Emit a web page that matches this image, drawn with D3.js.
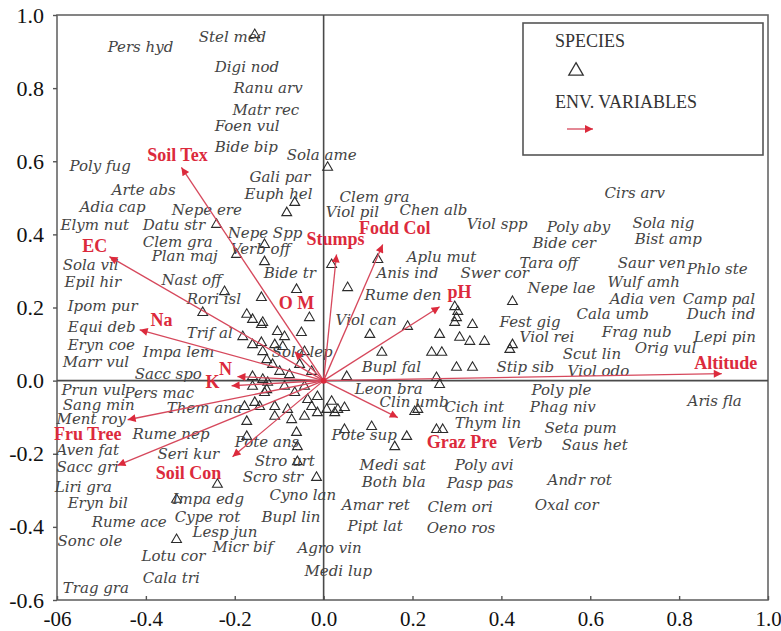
<!DOCTYPE html>
<html>
<head>
<meta charset="utf-8">
<script src="https://cdn.jsdelivr.net/npm/d3@7"></script>
<style>
  body { margin: 0; background: #fff; }
  svg { display: block; }
</style>
</head>
<body>
<svg id="chart" width="781" height="631"></svg>
<script>
// Axis ticks (CCA axis 1 horizontal, axis 2 vertical)
const xTicks = [-0.6, -0.4, -0.2, 0.0, 0.2, 0.4, 0.6, 0.8, 1.0];
const xTickLabels = ["-06", "-0.4", "-0.2", "0.0", "0.2", "0.4", "0.6", "0.8", "1.0"];
const yTicks = [-0.6, -0.4, -0.2, 0.0, 0.2, 0.4, 0.6, 0.8, 1.0];
const yTickLabels = ["-0.6", "-0.4", "-0.2", "0.0", "0.2", "0.4", "0.6", "0.8", "1.0"];

// Species name labels and their ordination scores
const speciesNames = [
  "Pers hyd", "Stel med", "Digi nod", "Ranu arv", "Matr rec", "Foen vul", "Bide bip", "Sola ame",
  "Poly fug", "Arte abs", "Adia cap", "Nepe ere", "Elym nut", "Datu str", "Nepe Spp", "Clem gra",
  "Plan maj", "Verb off", "Sola vil", "Nast off", "Epil hir", "Rori isl", "Ipom pur", "Bide tr",
  "Gali par", "Euph hel", "Clem gra", "Viol pil", "Chen alb", "Viol spp", "Aplu mut", "Anis ind",
  "Swer cor", "Rume den", "Viol can", "Cirs arv", "Poly aby", "Sola nig", "Bide cer", "Bist amp",
  "Tara off", "Saur ven", "Phlo ste", "Wulf amh", "Nepe lae", "Adia ven", "Camp pal", "Cala umb",
  "Duch ind", "Fest gig", "Frag nub", "Lepi pin", "Viol rei", "Orig vul", "Scut lin", "Stip sib",
  "Viol odo", "Poly ple", "Phag niv", "Aris fla", "Cich int", "Thym lin", "Seta pum", "Verb",
  "Saus het", "Poly avi", "Andr rot", "Pasp pas", "Oxal cor", "Clem ori", "Oeno ros", "Medi sat",
  "Both bla", "Amar ret", "Pipt lat", "Agro vin", "Medi lup", "Cyno lan", "Bupl lin", "Micr bif",
  "Lesp jun", "Cype rot", "Impa edg", "Lotu cor", "Cala tri", "Trag gra", "Sonc ole", "Rume ace",
  "Eryn bil", "Liri gra", "Sacc gri", "Aven fat", "Seri kur", "Rume nep", "Ment roy", "Sang min",
  "Prun vul", "Pers mac", "Them ana", "Sacc spo", "Marr vul", "Impa lem", "Eryn coe", "Trif al",
  "Equi deb", "Pote ans", "Pote sup", "Stro urt", "Scro str", "Leon bra", "Clin umb", "Bupl fal",
  "Sola lep"
];
const speciesX = [
  -0.486, -0.281, -0.245, -0.203, -0.205, -0.245, -0.245, -0.083,
  -0.572, -0.477, -0.549, -0.342, -0.592, -0.407, -0.216, -0.407,
  -0.387, -0.209, -0.587, -0.365, -0.583, -0.308, -0.576, -0.135,
  -0.167, -0.178, 0.036, 0.005, 0.171, 0.322, 0.187, 0.119,
  0.308, 0.092, 0.027, 0.632, 0.502, 0.695, 0.470, 0.700,
  0.441, 0.662, 0.817, 0.639, 0.459, 0.644, 0.808, 0.569,
  0.817, 0.396, 0.626, 0.833, 0.441, 0.700, 0.538, 0.389,
  0.549, 0.468, 0.464, 0.819, 0.272, 0.295, 0.497, 0.414,
  0.536, 0.295, 0.504, 0.277, 0.475, 0.234, 0.232, 0.081,
  0.086, 0.041, 0.054, -0.059, -0.043, -0.122, -0.140, -0.250,
  -0.295, -0.335, -0.340, -0.410, -0.407, -0.587, -0.599, -0.522,
  -0.576, -0.605, -0.601, -0.601, -0.374, -0.430, -0.601, -0.587,
  -0.590, -0.448, -0.353, -0.425, -0.587, -0.407, -0.576, -0.308,
  -0.576, -0.200, 0.018, -0.155, -0.182, 0.070, 0.126, 0.086,
  -0.117
];
const speciesY = [
  0.913, 0.941, 0.859, 0.799, 0.741, 0.697, 0.640, 0.618,
  0.588, 0.522, 0.476, 0.468, 0.427, 0.427, 0.405, 0.380,
  0.342, 0.361, 0.317, 0.276, 0.271, 0.222, 0.205, 0.295,
  0.558, 0.511, 0.503, 0.462, 0.468, 0.429, 0.339, 0.295,
  0.295, 0.235, 0.167, 0.514, 0.421, 0.432, 0.377, 0.388,
  0.323, 0.323, 0.304, 0.271, 0.254, 0.222, 0.222, 0.181,
  0.181, 0.161, 0.134, 0.120, 0.120, 0.088, 0.074, 0.038,
  0.025, -0.027, -0.071, -0.055, -0.071, -0.115, -0.129, -0.170,
  -0.175, -0.230, -0.271, -0.279, -0.339, -0.345, -0.402, -0.230,
  -0.276, -0.339, -0.397, -0.457, -0.522, -0.312, -0.372, -0.454,
  -0.413, -0.372, -0.325, -0.479, -0.539, -0.566, -0.438, -0.388,
  -0.334, -0.290, -0.235, -0.191, -0.200, -0.145, -0.104, -0.066,
  -0.027, -0.033, -0.074, 0.019, 0.052, 0.077, 0.098, 0.131,
  0.148, -0.167, -0.150, -0.219, -0.263, -0.022, -0.058, 0.038,
  0.079
];

// Species sample points (triangles)
const triangleX = [
  -0.155, 0.009, -0.065, -0.083, -0.241, -0.196, -0.133, -0.133, 0.018, 0.122,
  -0.223, -0.140, -0.061, 0.054, -0.173, -0.272, -0.032, 0.295, 0.302, 0.425,
  0.299, 0.295, 0.335, 0.189, 0.104, 0.261, 0.306, 0.329, 0.362, 0.243,
  0.266, 0.419, 0.131, 0.299, 0.335, 0.052, 0.254, 0.261, 0.212, 0.205,
  0.108, 0.254, 0.268, 0.187, 0.160, 0.047, -0.061, -0.059, 0.425,
  -0.160, -0.137, -0.182, -0.160, -0.137, -0.128, -0.160, -0.137, -0.160, -0.128,
  -0.155, -0.178, -0.144, -0.173, -0.173, -0.140, -0.104, -0.088, -0.050, -0.140,
  -0.110, -0.092, -0.115, -0.099, -0.126, -0.088, -0.043, -0.133, -0.065, -0.036,
  -0.014, 0.018, -0.110, -0.081, -0.027, 0.007, 0.032, 0.047, -0.110, -0.072,
  -0.043, -0.014, 0.025, -0.239, -0.331, -0.331, -0.016, -0.059,
  -0.054, -0.077, -0.027, -0.043
];
const triangleY = [
  0.946, 0.583, 0.487, 0.459, 0.427, 0.345, 0.372, 0.325, 0.317, 0.331,
  0.243, 0.227, 0.249, 0.254, 0.181, 0.186, 0.172, 0.202, 0.189, 0.216,
  0.172, 0.159, 0.153, 0.148, 0.126, 0.126, 0.118, 0.107, 0.107, 0.077,
  0.077, 0.085, 0.077, 0.036, 0.036, 0.011, 0.008, -0.011, -0.079, -0.085,
  -0.126, -0.134, -0.134, -0.153, -0.181, -0.134, -0.142, -0.181, 0.098,
  0.167, 0.159, 0.120, 0.098, 0.079, 0.057, 0.011, 0.003, -0.016, -0.025,
  -0.060, -0.071, -0.071, -0.112, -0.153, 0.153, 0.134, 0.120, 0.131, 0.104,
  0.098, 0.093, 0.044, 0.025, -0.005, -0.016, -0.016, -0.033, -0.033, -0.052,
  -0.044, -0.057, -0.071, -0.079, -0.071, -0.079, -0.079, -0.074, -0.098, -0.107,
  -0.098, -0.088, -0.088, -0.284, -0.325, -0.435, -0.265, -0.222,
  0.044, 0.016, 0.025, 0.079
];

// Environmental variables: biplot arrow tips and label anchors
const envNames = ["Soil Tex", "EC", "Na", "N", "K", "Fru Tree", "", "Soil Con",
                  "O M", "Stumps", "Fodd Col", "pH", "Altitude", "Graz Pre"];
const envX = [-0.320, -0.482, -0.414, -0.194, -0.207, -0.441, -0.464, -0.205,
              -0.065, 0.029, 0.133, 0.261, 0.896, 0.167];
const envY = [0.583, 0.339, 0.139, 0.011, -0.014, -0.107, -0.232, -0.208,
              0.079, 0.345, 0.372, 0.202, 0.019, -0.101];
const envLabelX = [-0.329, -0.515, -0.365, -0.221, -0.250, -0.531, -0.464, -0.304,
                   -0.061, 0.027, 0.160, 0.306, 0.905, 0.311];
const envLabelY = [0.618, 0.369, 0.167, 0.033, -0.005, -0.145, -0.232, -0.252,
                   0.211, 0.386, 0.418, 0.243, 0.049, -0.167];

const svg = d3.select("#chart");
const plotLeft = 57, plotRight = 768, plotTop = 15, plotBottom = 600;

const x = d3.scaleLinear().domain([-0.6, 1.0]).range([plotLeft, plotRight]);
const y = d3.scaleLinear().domain([-0.6, 1.0]).range([plotBottom, plotTop]);

const red = "#dc2a3c";
const axisGrey = "#555";

// arrowhead for environmental vectors
const defs = svg.append("defs");
defs.append("marker")
  .attr("id", "head")
  .attr("viewBox", "0 0 10 10")
  .attr("refX", 10).attr("refY", 5)
  .attr("markerWidth", 12).attr("markerHeight", 8)
  .attr("markerUnits", "userSpaceOnUse")
  .attr("orient", "auto")
  .append("path")
  .attr("d", "M0,0L10,5L0,10Z")
  .attr("fill", red);

// plot frame
svg.append("rect")
  .attr("x", x(-0.6)).attr("y", y(1.0))
  .attr("width", x(1.0) - x(-0.6)).attr("height", y(-0.6) - y(1.0))
  .attr("fill", "none").attr("stroke", "#666").attr("stroke-width", 1.6);

// bottom axis
const gx = svg.append("g")
  .attr("transform", `translate(0,${plotBottom})`)
  .call(d3.axisBottom(x).tickValues(xTicks)
    .tickFormat((d, i) => xTickLabels[i])
    .tickSizeInner(-4).tickSizeOuter(0).tickPadding(11));
gx.select(".domain").remove();
gx.selectAll(".tick line").attr("stroke", axisGrey).attr("stroke-width", 1.4);
gx.selectAll(".tick text")
  .attr("font-family", "'Liberation Serif', 'Times New Roman', serif")
  .attr("font-size", 21).attr("fill", "#111");

// left axis
const gy = svg.append("g")
  .attr("transform", `translate(${plotLeft},0)`)
  .call(d3.axisLeft(y).tickValues(yTicks)
    .tickFormat((d, i) => yTickLabels[i])
    .tickSizeInner(4).tickSizeOuter(0).tickPadding(9));
gy.select(".domain").remove();
gy.selectAll(".tick line").attr("stroke", axisGrey).attr("stroke-width", 1.4);
gy.selectAll(".tick text")
  .attr("font-family", "'Liberation Serif', 'Times New Roman', serif")
  .attr("font-size", 22).attr("fill", "#111");

// zero lines through the origin
svg.append("line")
  .attr("x1", x(0)).attr("x2", x(0)).attr("y1", y(1.0)).attr("y2", y(-0.6))
  .attr("stroke", "#4a4a4a").attr("stroke-width", 1.6);
svg.append("line")
  .attr("x1", x(-0.6)).attr("x2", x(1.0)).attr("y1", y(0)).attr("y2", y(0))
  .attr("stroke", "#4a4a4a").attr("stroke-width", 1.6);

// species points
const tri = d3.symbol().type(d3.symbolTriangle).size(42);
svg.append("g").selectAll("path")
  .data(d3.range(triangleX.length))
  .join("path")
  .attr("d", tri)
  .attr("transform", i => `translate(${x(triangleX[i])},${y(triangleY[i])})`)
  .attr("fill", "none")
  .attr("stroke", "#2b2b2b")
  .attr("stroke-width", 1.1);

// species labels
svg.append("g").selectAll("text")
  .data(d3.range(speciesNames.length))
  .join("text")
  .attr("x", i => x(speciesX[i]))
  .attr("y", i => y(speciesY[i]))
  .attr("dominant-baseline", "central")
  .attr("font-family", "'DejaVu Serif', serif")
  .attr("font-style", "italic")
  .attr("font-size", 15)
  .attr("fill", "#444")
  .text(i => speciesNames[i]);

// environmental vectors
svg.append("g").selectAll("line")
  .data(d3.range(envNames.length))
  .join("line")
  .attr("x1", x(0)).attr("y1", y(0))
  .attr("x2", i => x(envX[i])).attr("y2", i => y(envY[i]))
  .attr("stroke", "#d6485c")
  .attr("stroke-width", 1.3)
  .attr("marker-end", "url(#head)");

svg.append("circle")
  .attr("cx", x(0)).attr("cy", y(0)).attr("r", 3)
  .attr("fill", red);

svg.append("g").selectAll("text")
  .data(d3.range(envNames.length).filter(i => envNames[i] !== ""))
  .join("text")
  .attr("x", i => x(envLabelX[i]))
  .attr("y", i => y(envLabelY[i]))
  .attr("text-anchor", "middle")
  .attr("dominant-baseline", "central")
  .attr("font-family", "'Liberation Serif', 'Times New Roman', serif")
  .attr("font-weight", "bold")
  .attr("font-size", 18)
  .attr("fill", red)
  .text(i => envNames[i]);

// legend
const lg = svg.append("g");
lg.append("rect")
  .attr("x", 523).attr("y", 23).attr("width", 240).attr("height", 132)
  .attr("fill", "#fff").attr("stroke", "#555").attr("stroke-width", 1.6);
lg.append("text")
  .attr("x", 555).attr("y", 47)
  .attr("font-family", "'Liberation Serif', 'Times New Roman', serif")
  .attr("font-size", 18).attr("fill", "#333")
  .text("SPECIES");
lg.append("path")
  .attr("d", d3.symbol().type(d3.symbolTriangle).size(90))
  .attr("transform", "translate(576,71)")
  .attr("fill", "none").attr("stroke", "#333").attr("stroke-width", 1.3);
lg.append("text")
  .attr("x", 555).attr("y", 108)
  .attr("font-family", "'Liberation Serif', 'Times New Roman', serif")
  .attr("font-size", 18).attr("fill", "#333")
  .text("ENV. VARIABLES");
lg.append("line")
  .attr("x1", 567).attr("y1", 129).attr("x2", 593).attr("y2", 129)
  .attr("stroke", "#d6485c").attr("stroke-width", 1.3)
  .attr("marker-end", "url(#head)");
</script>
</body>
</html>
